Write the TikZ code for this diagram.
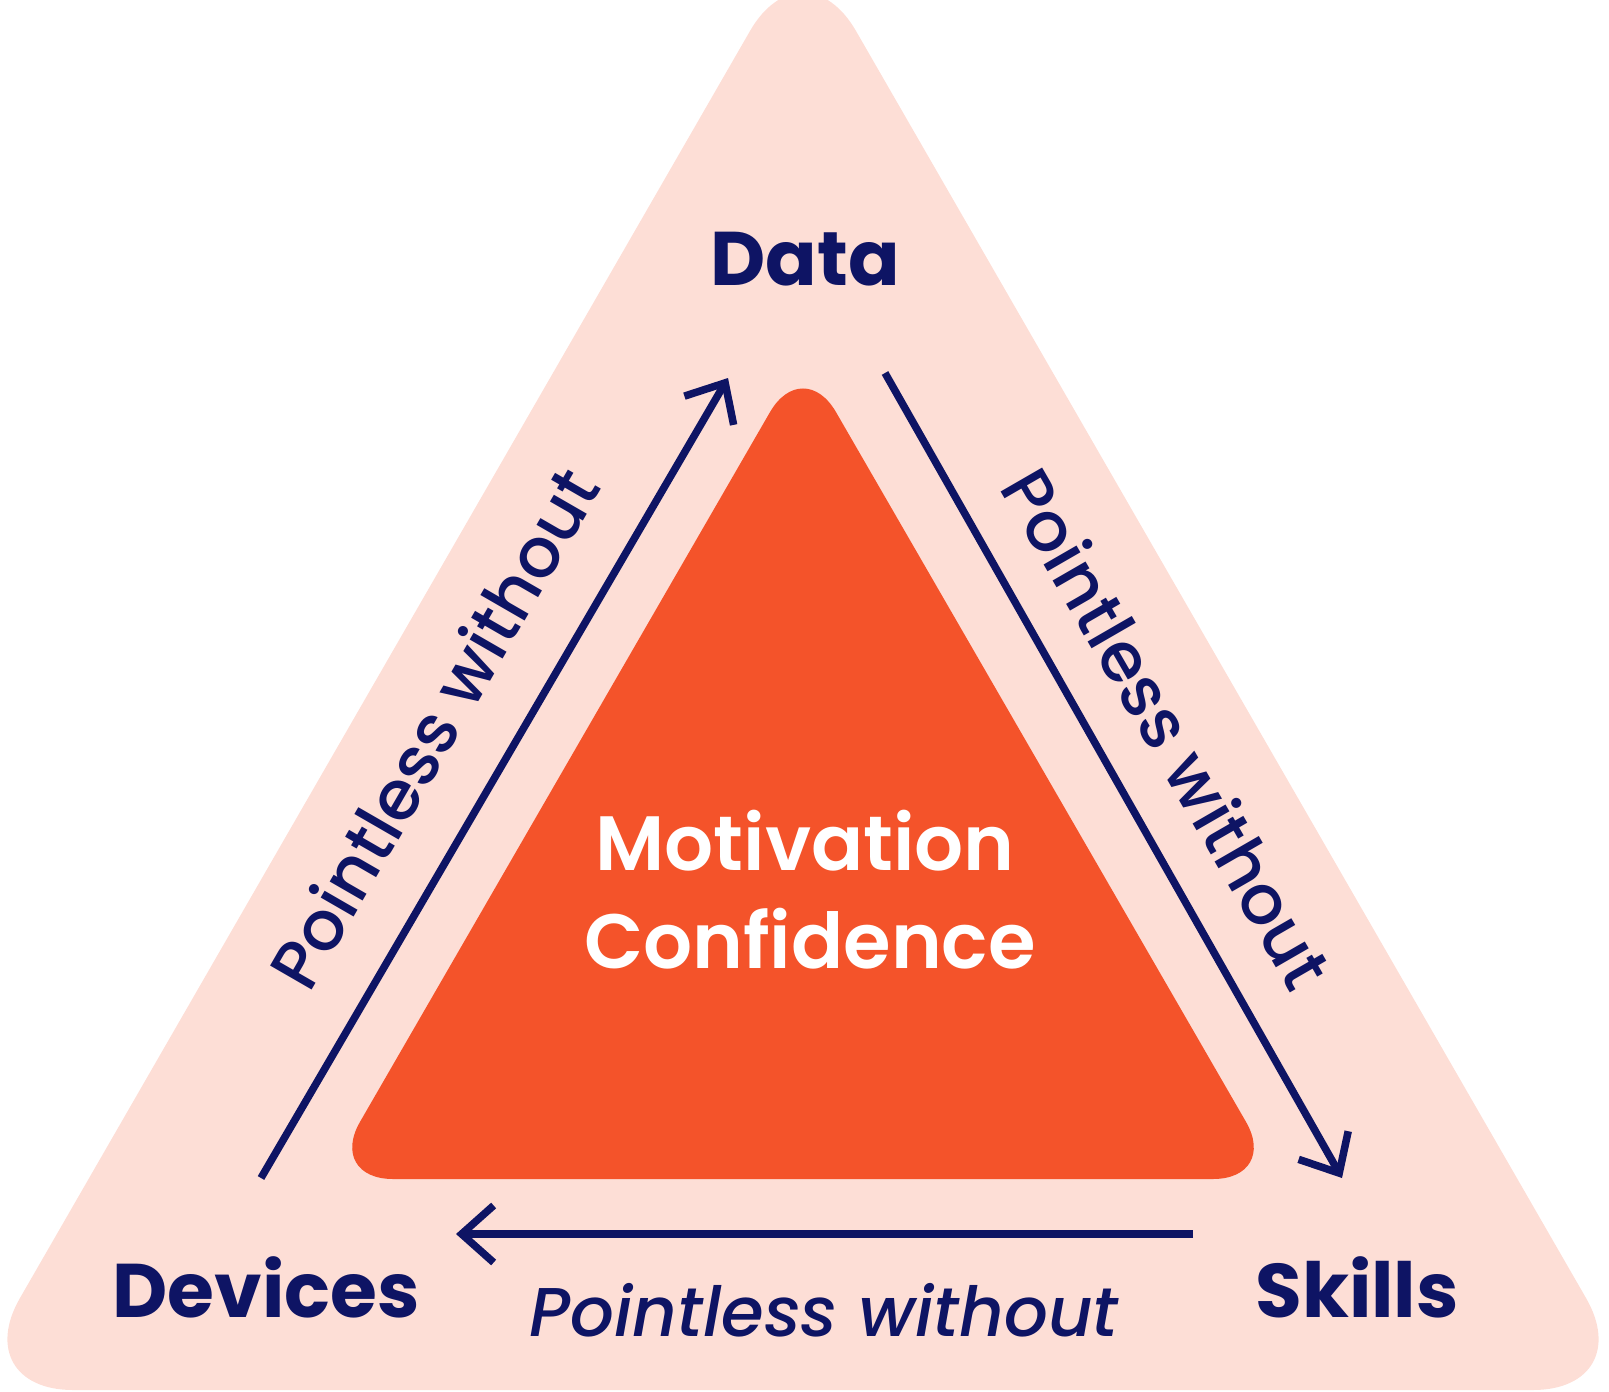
\documentclass[tikz,border=0pt]{standalone}
\usepackage{fontspec}
\setmainfont{Poppins}
\newfontfamily\popsemi{Poppins}[UprightFont={* SemiBold}]
\newfontfamily\popbold{Poppins}[UprightFont={* Bold}]
\newfontfamily\popmed{Poppins}[UprightFont={* Medium}, ItalicFont={* Medium Italic}]
\usetikzlibrary{arrows.meta}
\definecolor{pinkbg}{RGB}{253,222,214}
\definecolor{orangein}{RGB}{244,83,42}
\definecolor{navy}{RGB}{14,20,100}
\tikzset{
  corner/.style={font=\popbold\fontsize{76}{90}\selectfont, text=navy, inner sep=0pt, anchor=base},
  centre/.style={font=\popsemi\fontsize{77}{98}\selectfont, text=white, inner sep=0pt, anchor=base},
  sidelabel/.style={font=\popmed\fontsize{69}{80}\selectfont, text=navy, inner sep=0pt},
  flow/.style={draw=navy, line width=7.5pt, -{Straight Barb[length=32pt,width=57pt]}}
}
\begin{document}
\begin{tikzpicture}[x=1pt,y=-1pt]
\useasboundingbox (0,0) rectangle (1609,1392);
% outer triangle
\fill[pinkbg, rounded corners=106pt] (803,-61) -- (1639,1390) -- (-33,1390) -- cycle;
% inner triangle
\fill[orangein, rounded corners=66pt] (803,355) -- (1279,1179) -- (327,1179) -- cycle;
% corner labels
\node[corner] (data) at (805,285) {Data};
\node[corner] (devices) at (266,1317) {Devices};
\node[corner] (skills) at (1357,1317) {Skills};
% centre labels
\node[centre] (motivation) at (805,870) {Motivation};
\node[centre] (confidence) at (810,968) {Confidence};
% arrow endpoints
\coordinate (a1s) at (261,1178);
\coordinate (a1e) at (728,378);
\coordinate (a2s) at (885,373);
\coordinate (a2e) at (1342,1178);
\coordinate (a3s) at (1193,1234);
\coordinate (a3e) at (456,1234);
\draw[flow] (a1s) -- (a1e);
\draw[flow] (a2s) -- (a2e);
\draw[flow] (a3s) -- (a3e);
% side labels
\node[sidelabel, rotate=60] (lleft) at (433,728) {Pointless without};
\node[sidelabel, rotate=-60] (lright) at (1168,728) {Pointless without};
\node[sidelabel, font=\popmed\itshape\fontsize{69}{80}\selectfont, anchor=base] (lbottom) at (824,1336) {Pointless without};
\end{tikzpicture}
\end{document}
